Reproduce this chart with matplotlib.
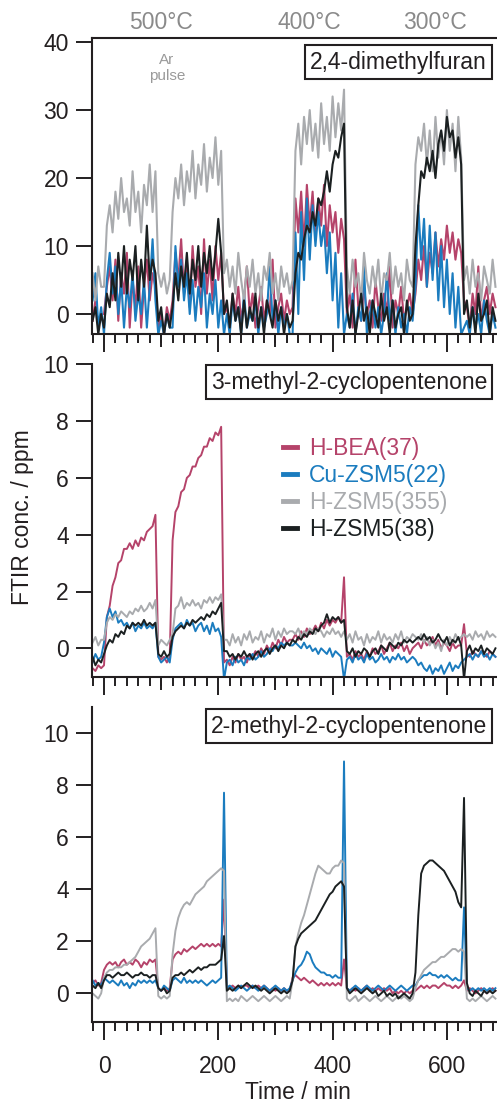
import numpy as np
import matplotlib
matplotlib.use("Agg")
import matplotlib.pyplot as plt
from matplotlib.ticker import MultipleLocator, FixedLocator
import matplotlib.transforms as mtransforms

plt.rcParams['font.family'] = ['Liberation Sans', 'DejaVu Sans']

time_min = np.arange(-20, 690, 5)

series_names = ["H-BEA(37)", "Cu-ZSM5(22)", "H-ZSM5(355)", "H-ZSM5(38)"]
panel_titles = ["2,4-dimethylfuran", "3-methyl-2-cyclopentenone", "2-methyl-2-cyclopentenone"]
temp_labels = ["500°C", "400°C", "300°C"]
temp_label_times = [100, 360, 580]

# 2,4-dimethylfuran
dmf_hbea = [-1, 2, -2, 0,
            0, 4, 7, 2, 8, -1, 6, 3, 9, -2, 5, 1, 7, -2, 4, 8, 2, 6, 4,
            -2, 0, -3, 1, -1,
            2, 9, 5, 11, 3, 8, 1, 10, 4, 7, 0, 11, 3, 8, 2, 10, 5, 9, 0,
            1, -2, 3, 0, 4, -1, 2, 7, 0, 3, -2, 1, 4, -1, 2, 0, 8, -2, 1, 3, -1, 2, 0,
            1, 17, 12, 18, 10, 19, 13, 18, 11, 17, 13, 19, 10, 16, 12, 15, 9, 14, 11,
            0, 3, -2, 8, 1, -1, 4, 0, 2, -2, 5, 1, -1, 3, 0, 7, -2, 2, 0, 4, -1, 1, 3, 0,
            3, 8, 5, 10, 4, 9, 6, 12, 7, 11, 8, 13, 9, 12, 8, 11, 9, 2,
            1, -2, 3, 0, 7, -1, 2, 4, 0, 3, 1]
dmf_cuzsm5 = [2, 6, -2, 1,
              -3, 5, 9, 3, 7, 0, 5, -2, 4, 1, 6, -1, 3, 0, 5, -2, 4, 11, 2,
              -3, -1, -3, 0, -2,
              -2, 10, 4, 8, 2, 6, 0, 5, -1, 4, 1, 6, -2, 3, 0, 5, -2, 2, -3,
              0, -3, 2, -1, 1, -3, 3, -2, 0, -1, 2, -3, 1, -2, 0, 7, -1, 2, -3, 1, -2, 0, -3,
              -3, 12, 0, 15, 5, 17, 8, 16, 10, 15, 10, 13, 6, 12, 2, 9, -2, 6, -3,
              0, -2, 3, -3, 1, -1, 7, -3, 0, 2, -2, 1, -3, 0, 6, -1, 2, -3, 1, -2, 0, -3, 1, -1,
              4, 16, 8, 14, 4, 13, 5, 12, 2, 10, 1, 8, 0, 6, -2, 4, -3, -2,
              -1, -3, 1, -2, 0, -3, 2, -1, -3, 0, -2]
dmf_hzsm5_355 = [6, 2, 7, 4,
                 4, 13, 16, 12, 18, 14, 20, 15, 17, 13, 21, 15, 18, 12, 19, 16, 22, 15, 21,
                 6, 4, 6, 3, 5,
                 15, 20, 17, 22, 16, 21, 18, 24, 17, 22, 19, 25, 18, 23, 20, 26, 19, 24, 6,
                 8, 4, 7, 3, 9, 5, 2, 7, 4, 8, 3, 6, 2, 7, 5, 9, 3, 6, 2, 7, 4, 6, 3,
                 5, 24, 28, 22, 29, 25, 30, 24, 28, 23, 31, 25, 29, 24, 32, 26, 31, 27, 33,
                 7, 3, 8, 4, 6, 2, 9, 5, 3, 7, 4, 8, 2, 6, 5, 9, 3, 7, 4, 6, 2, 8, 5, 4,
                 22, 26, 24, 28, 22, 27, 21, 29, 23, 27, 22, 30, 24, 28, 21, 29, 23, 5,
                 7, 3, 8, 4, 6, 2, 7, 5, 3, 8, 4]
dmf_hzsm5_38 = [-1, 1, -3, 0,
                -2, 3, 1, 6, 2, 9, 4, 10, 3, 8, 5, 10, 2, 8, 4, 13, 5, 8, 6,
                -1, 1, -3, 0, -2,
                1, 6, 2, 7, 4, 9, 3, 8, 5, 10, 4, 9, 6, 10, 5, 9, 14, 9, 0,
                2, -2, 3, -1, 1, -3, 2, -2, 1, -1, 3, -2, 1, -3, 2, 0, -2, 2, -1, 1, -3, 0, -2,
                -1, 6, 9, 8, 11, 13, 12, 15, 13, 17, 16, 18, 21, 18, 22, 24, 23, 26, 28,
                1, -2, 2, -3, 0, 3, -1, 1, -3, 2, 0, -2, 3, -1, 1, -3, 2, -2, 0, 1, -3, 2, -1, 0,
                10, 16, 21, 20, 23, 21, 24, 20, 25, 27, 24, 29, 26, 27, 23, 26, 22, 0,
                2, -2, 1, -3, 3, -1, 0, 2, -3, 1, -1]

# 3-methyl-2-cyclopentenone
mcp3_hbea = [-0.7, -0.8, -0.6, -0.7,
             -0.6, 1.1, 1.5, 2.2, 2.5, 3.0, 3.1, 3.5, 3.5, 3.7, 3.5, 3.8, 3.6, 3.9, 3.8, 4.1, 4.2, 4.3, 4.7,
             -0.3, -0.4, -0.3, -0.5, -0.3,
             3.8, 4.8, 5.0, 5.5, 5.6, 6.0, 6.1, 6.4, 6.4, 6.7, 6.8, 7.1, 7.1, 7.4, 7.3, 7.6, 7.5, 7.8, -0.5,
             -0.4, -0.6, -0.3, -0.5, -0.2, -0.4, -0.3, -0.5, -0.2, -0.3, -0.1, -0.3, 0.0, -0.2, 0.1, -0.1, 0.2, 0.0, 0.3, 0.1, 0.4, 0.2, 0.3,
             0.3, 0.5, 0.3, 0.6, 0.4, 0.7, 0.5, 0.6, 0.8, 0.6, 0.9, 0.7, 1.0, 0.8, 1.0, 0.9, 1.1, 0.9, 2.5,
             -0.3, -0.2, -0.4, -0.1, -0.3, -0.2, -0.4, -0.1, -0.3, 0.0, -0.2, -0.1, 0.1, -0.2, 0.0, 0.2, -0.1, 0.1, 0.0, 0.2, -0.1, 0.1, -0.2, 0.0,
             0.1, 0.2, 0.0, 0.3, 0.1, 0.2, 0.4, 0.1, 0.3, 0.0, 0.2, 0.1, -0.1, 0.2, 0.0, 0.1, 0.1, 0.85,
             -0.2, -0.3, -0.1, -0.2, -0.3, -0.1, -0.2, -0.3, -0.1, -0.2, -0.3]
mcp3_cuzsm5 = [-0.5, -0.2, -0.4, -0.3,
               0.2, 1.1, 1.4, 1.1, 1.3, 0.9, 1.0, 0.8, 0.9, 0.7, 0.9, 0.6, 0.8, 0.7, 0.9, 0.7, 0.8, 0.7, 0.9,
               -0.3, -0.5, -0.4, -0.3, -0.5,
               0.3, 0.7, 0.8, 0.9, 0.7, 1.0, 0.8, 0.9, 0.6, 0.8, 0.9, 0.6, 0.8, 0.5, 0.9, 0.6, 0.7, 0.4, -1.1,
               -0.5, -0.4, -0.6, -0.3, -0.5, -0.4, -0.6, -0.3, -0.4, -0.2, -0.4, -0.3, -0.1, -0.3, -0.2, 0.0, -0.1, 0.1, 0.0, 0.2, 0.1, 0.2, 0.1,
               0.1, 0.2, 0.1, 0.0, 0.2, 0.0, 0.1, -0.1, 0.0, -0.2, 0.0, -0.1, -0.2, 0.0, -0.3, -0.1, -0.2, -0.3, -1.1,
               -0.4, -0.3, -0.5, -0.2, -0.4, -0.3, -0.5, -0.2, -0.4, -0.3, -0.5, -0.4, -0.2, -0.4, -0.3, -0.5, -0.3, -0.4, -0.2, -0.4, -0.3, -0.5, -0.4, -0.3,
               -0.4, -0.6, -0.5, -0.7, -0.8, -0.6, -0.9, -0.7, -0.8, -0.6, -0.9, -0.7, -0.5, -0.8, -0.6, -0.7, -0.5, -0.4,
               -0.3, -0.2, -0.4, -0.2, -0.3, -0.1, -0.3, -0.2, -0.4, -0.2, -0.3]
mcp3_hzsm5_355 = [0.2, 0.4, 0.1, 0.3,
                  0.3, 0.9, 1.1, 1.0, 1.2, 1.1, 1.3, 1.2, 1.1, 1.3, 1.2, 1.4, 1.3, 1.5, 1.3, 1.4, 1.6, 1.4, 1.7,
                  0.1, 0.3, 0.2, 0.1, 0.3,
                  0.5, 1.4, 1.5, 1.8, 1.4, 1.6, 1.5, 1.7, 1.5, 1.6, 1.4, 1.7, 1.6, 1.8, 1.6, 1.8, 1.7, 1.9, 0.3,
                  0.3, 0.1, 0.5, 0.2, 0.4, 0.1, 0.5, 0.3, 0.6, 0.2, 0.4, 0.3, 0.6, 0.2, 0.5, 0.4, 0.7, 0.3, 0.6, 0.4, 0.7, 0.5, 0.6,
                  0.6, 0.5, 0.7, 0.4, 0.6, 0.5, 0.7, 0.6, 0.5, 0.7, 0.6, 0.4, 0.6, 0.5, 0.7, 0.5, 0.6, 0.4, 0.6,
                  0.3, 0.5, 0.2, 0.6, 0.3, 0.4, 0.1, 0.5, 0.2, 0.4, 0.3, 0.6, 0.2, 0.5, 0.3, 0.4, 0.2, 0.5, 0.3, 0.6, 0.2, 0.4, 0.3, 0.5,
                  0.4, 0.3, 0.5, 0.2, 0.4, 0.1, 0.3, 0.0, 0.2, -0.1, 0.3, 0.1, 0.4, 0.2, 0.5, 0.3, 0.4, 0.5,
                  0.4, 0.5, 0.3, 0.6, 0.4, 0.5, 0.3, 0.6, 0.4, 0.5, 0.4]
mcp3_hzsm5_38 = [-0.3, -0.6, -0.4, -0.5,
                 -0.2, 0.1, 0.3, 0.2, 0.5, 0.4, 0.6, 0.5, 0.8, 0.7, 0.9, 0.8, 0.9, 0.8, 1.0, 0.8, 0.9, 0.8, 0.9,
                 -0.2, -0.3, -0.1, -0.3, -0.2,
                 0.4, 0.6, 0.7, 0.8, 0.7, 0.9, 0.8, 1.0, 0.9, 1.0, 1.1, 1.0, 1.2, 1.1, 1.3, 1.2, 1.4, 1.6, -0.1,
                 -0.1, -0.3, -0.2, -0.4, -0.2, -0.3, -0.1, -0.3, -0.2, -0.4, -0.2, -0.1, -0.3, -0.1, 0.0, -0.2, 0.0, 0.1, -0.1, 0.1, 0.0, 0.2, 0.1,
                 0.3, 0.2, 0.4, 0.3, 0.5, 0.4, 0.6, 0.5, 0.7, 0.6, 0.8, 0.9, 1.2, 0.9, 1.1, 1.0, 1.1, 0.9, 1.0,
                 -0.1, -0.2, 0.0, -0.3, -0.1, -0.2, 0.0, -0.1, -0.3, -0.1, 0.0, -0.2, 0.1, 0.0, -0.1, 0.2, 0.1, 0.0, 0.2, 0.1, 0.3, 0.2, 0.3, 0.2,
                 0.3, 0.4, 0.3, 0.5, 0.3, 0.4, 0.2, 0.3, 0.5, 0.3, 0.2, 0.4, 0.1, 0.3, 0.2, 0.4, 0.1, -1.1,
                 -0.1, 0.1, -0.2, 0.0, -0.1, 0.1, -0.2, 0.0, -0.1, -0.2, 0.0]

# 2-methyl-2-cyclopentenone
mcp2_hbea = [0.4, 0.5, 0.3, 0.4,
             0.9, 1.1, 1.2, 1.1, 1.2, 1.0, 1.2, 1.3, 1.1, 1.2, 1.1, 1.3, 1.2, 1.0, 1.2, 1.1, 1.3, 1.2, 1.3,
             0.2, 0.1, 0.2, 0.1, 0.2,
             1.3, 1.5, 1.6, 1.5, 1.7, 1.6, 1.7, 1.8, 1.7, 1.8, 1.9, 1.8, 1.9, 1.8, 1.9, 1.8, 1.9, 1.8, 3.6,
             0.3, 0.2, 0.3, 0.2, 0.3, 0.2, 0.3, 0.3, 0.2, 0.3, 0.2, 0.3, 0.2, 0.3, 0.2, 0.1, 0.2, 0.1, 0.2, 0.1, 0.2, 0.1, 0.1,
             0.6, 0.7, 0.6, 0.5, 0.6, 0.5, 0.4, 0.5, 0.4, 0.3, 0.4, 0.3, 0.4, 0.3, 0.4, 0.3, 0.4, 0.3, 1.3,
             0.2, 0.1, 0.2, 0.1, 0.2, 0.1, 0.2, 0.3, 0.1, 0.2, 0.1, 0.2, 0.1, 0.2, 0.1, 0.2, 0.0, 0.1, 0.0, 0.1, 0.0, 0.1, 0.0, 0.1,
             0.1, 0.2, 0.3, 0.2, 0.3, 0.2, 0.3, 0.3, 0.2, 0.3, 0.4, 0.3, 0.3, 0.2, 0.3, 0.2, 0.3, 0.5,
             0.1, 0.2, 0.1, 0.0, 0.1, 0.2, 0.1, 0.0, 0.1, 0.2, 0.1]
mcp2_cuzsm5 = [0.5, 0.3, 0.4, 0.3,
               0.6, 0.5, 0.4, 0.5, 0.4, 0.3, 0.5, 0.3, 0.4, 0.2, 0.4, 0.3, 0.5, 0.4, 0.5, 0.4, 0.5, 0.4, 0.5,
               0.2, 0.1, 0.3, 0.2, 0.1,
               0.5, 0.6, 0.5, 0.4, 0.6, 0.4, 0.5, 0.4, 0.5, 0.4, 0.5, 0.4, 0.3, 0.4, 0.5, 0.4, 0.5, 0.6, 7.7,
               0.2, 0.3, 0.2, 0.1, 0.2, 0.3, 0.2, 0.1, 0.2, 0.3, 0.2, 0.1, 0.2, 0.3, 0.2, 0.1, 0.2, 0.3, 0.2, 0.1, 0.2, 0.1, 0.2,
               0.5, 0.8, 1.0, 1.1, 1.3, 1.6, 1.5, 1.2, 1.0, 0.9, 0.8, 0.8, 0.7, 0.7, 0.6, 0.7, 0.6, 0.6, 8.9,
               0.2, 0.1, 0.2, 0.3, 0.2, 0.1, 0.2, 0.3, 0.2, 0.1, 0.2, 0.3, 0.2, 0.1, 0.2, 0.3, 0.2, 0.1, 0.2, 0.3, 0.2, 0.1, 0.2, 0.3,
               0.3, 0.5, 0.6, 0.7, 0.7, 0.8, 0.7, 0.7, 0.6, 0.7, 0.6, 0.7, 0.6, 0.5, 0.6, 0.5, 0.5, 3.3,
               0.2, 0.1, 0.2, 0.1, 0.2, 0.1, 0.2, 0.1, 0.2, 0.1, 0.2]
mcp2_hzsm5_355 = [0.0, -0.1, -0.2, 0.0,
                  0.6, 0.8, 0.9, 0.9, 1.0, 1.0, 1.0, 1.1, 1.1, 1.2, 1.3, 1.4, 1.6, 1.8, 1.9, 2.0, 2.1, 2.3, 2.5,
                  -0.1, -0.2, -0.1, -0.2, -0.1,
                  1.5, 2.4, 2.9, 3.2, 3.4, 3.5, 3.4, 3.6, 3.8, 3.9, 4.0, 4.1, 4.3, 4.4, 4.5, 4.6, 4.7, 4.8, 4.7,
                  -0.3, -0.2, -0.3, -0.2, -0.3, -0.1, -0.2, -0.3, -0.2, -0.1, -0.2, -0.3, -0.2, -0.1, -0.2, -0.3, -0.2, -0.1, -0.2, -0.3, -0.2, -0.1, -0.2,
                  0.5, 1.8, 2.3, 2.7, 3.0, 3.4, 3.8, 4.2, 4.6, 4.9, 4.8, 4.7, 4.6, 4.6, 4.8, 4.9, 4.9, 5.1, 5.0,
                  -0.2, -0.3, -0.2, -0.1, -0.3, -0.2, -0.1, -0.2, -0.3, -0.2, -0.1, -0.2, -0.3, -0.2, -0.1, -0.2, -0.3, -0.2, -0.1, -0.2, -0.1, -0.2, -0.3, -0.2,
                  0.2, 0.5, 0.7, 0.9, 1.0, 1.1, 1.2, 1.2, 1.3, 1.4, 1.4, 1.5, 1.6, 1.7, 1.7, 1.6, 1.7, 1.6,
                  -0.2, -0.3, -0.2, -0.3, -0.2, -0.1, -0.2, -0.3, -0.2, -0.1, -0.2]
mcp2_hzsm5_38 = [0.3, 0.2, 0.4, 0.2,
                 0.5, 0.7, 0.7, 0.6, 0.7, 0.8, 0.7, 0.7, 0.8, 0.7, 0.6, 0.7, 0.7, 0.8, 0.7, 0.7, 0.6, 0.7, 0.7,
                 0.2, 0.1, 0.2, 0.0, 0.1,
                 0.6, 0.7, 0.7, 0.8, 0.7, 0.8, 0.9, 0.8, 0.9, 1.0, 0.9, 1.0, 1.0, 1.1, 1.1, 1.1, 1.2, 1.3, 2.2,
                 0.1, 0.2, 0.1, 0.2, 0.3, 0.2, 0.3, 0.4, 0.3, 0.2, 0.3, 0.2, 0.1, 0.2, 0.1, 0.0, 0.1, 0.2, 0.1, 0.0, 0.1, 0.0, 0.1,
                 0.5, 1.8, 2.1, 2.3, 2.4, 2.5, 2.6, 2.7, 2.8, 3.0, 3.2, 3.4, 3.6, 3.8, 3.9, 4.1, 4.2, 4.3, 4.1,
                 0.2, 0.0, 0.1, 0.2, 0.1, 0.0, 0.1, 0.2, 0.1, 0.0, 0.1, -0.1, 0.0, 0.1, -0.1, 0.0, -0.1, 0.0, -0.2, -0.1, 0.0, -0.1, -0.2, 0.0,
                 0.8, 3.0, 4.6, 4.9, 5.0, 5.1, 5.1, 5.0, 4.9, 4.8, 4.7, 4.5, 4.3, 4.1, 3.9, 3.5, 3.3, 7.5,
                 0.4, 0.0, -0.1, 0.1, 0.0, -0.1, 0.1, 0.0, 0.1, 0.0, 0.1]

panels = [
    [dmf_hbea, dmf_cuzsm5, dmf_hzsm5_355, dmf_hzsm5_38],
    [mcp3_hbea, mcp3_cuzsm5, mcp3_hzsm5_355, mcp3_hzsm5_38],
    [mcp2_hbea, mcp2_cuzsm5, mcp2_hzsm5_355, mcp2_hzsm5_38],
]
for p in panels:
    for s in p:
        assert len(s) == len(time_min), len(s)

# ---------------- styling ----------------
colors = ["#b5436a", "#1b7cbf", "#a9abae", "#1b2021"]
draw_order = [0, 1, 2, 3]
text_col = "#231f20"
FS = 16.5

W, H = 497, 1103
fig = plt.figure(figsize=(W / 100, H / 100), dpi=100)


def px_rect(left, top, right, bottom):
    return [left / W, 1 - bottom / H, (right - left) / W, (bottom - top) / H]


axes = [fig.add_axes(px_rect(92, 38, 497, 334)),
        fig.add_axes(px_rect(92, 364.3, 497, 676.7)),
        fig.add_axes(px_rect(92, 706.7, 497, 1022.3))]
ylims = [(-2.94, 40.6), (-1.0, 10.0), (-1.11, 11.0)]
ysteps = [10, 2, 2]
ymaxtick = [40, 10, 10]
lws = [1.5, 1.4, 1.4]

lines_mid = {}
for i, ax in enumerate(axes):
    for k in draw_order:
        ln, = ax.plot(time_min, panels[i][k], color=colors[k], lw=lws[i],
                      label=series_names[k])
        if i == 1:
            lines_mid[k] = ln
    ax.set_xlim(-21, 687.7)
    ax.set_ylim(*ylims[i])
    ax.yaxis.set_major_locator(FixedLocator(np.arange(0, ymaxtick[i] + 0.1, ysteps[i])))
    ax.xaxis.set_major_locator(FixedLocator([0, 200, 400, 600]))
    ax.xaxis.set_minor_locator(MultipleLocator(20))
    ax.tick_params(axis='y', which='major', direction='out', length=11.7, width=1.4,
                   labelsize=FS, pad=5, colors=text_col)
    ax.tick_params(axis='x', which='major', direction='out', length=12.7, width=1.4,
                   labelsize=FS, pad=11, colors=text_col)
    ax.tick_params(axis='x', which='minor', direction='out', length=6.7, width=1.4, colors=text_col)
    if i < 2:
        ax.tick_params(axis='x', which='both', labelbottom=False)
    sec = ax.secondary_xaxis('bottom')
    sec.set_xticks([100, 300, 500])
    sec.tick_params(axis='x', direction='out', length=9.1, width=1.4, labelbottom=False, colors=text_col)
    sec.spines['bottom'].set_visible(False)
    ax.spines['right'].set_visible(False)
    ax.spines['top'].set_visible(i == 0)
    for sp in ['left', 'bottom', 'top']:
        ax.spines[sp].set_linewidth(1.5)
        ax.spines[sp].set_color(text_col)

# x label
fig.text(298 / W, 1 - 1099 / H, "Time / min", ha='center', va='baseline',
         fontsize=FS, color=text_col)

# panel title boxes
title_tops = [45, 365, 709]
for i, t in enumerate(panel_titles):
    fig.text(487 / W, 1 - (title_tops[i] + 5.5) / H, t, ha='right', va='top', fontsize=FS,
             color=text_col, zorder=10,
             bbox=dict(boxstyle='square,pad=0.22', fc='white', ec=text_col, lw=1.5))

# temperature labels above top panel
blend = mtransforms.blended_transform_factory(axes[0].transData, fig.transFigure)
for lab, tx in zip(temp_labels, temp_label_times):
    axes[0].text(tx, 1 - 22.8 / H, lab, transform=blend, ha='center', va='center',
                 fontsize=FS, color="#8a8a8a", clip_on=False)
axes[0].text(110, 1 - 68 / H, "Ar\npulse", transform=blend, ha='center', va='center',
             fontsize=11, color="#9a9a9a", linespacing=1.1, clip_on=False)

# y label
fig.text(23 / W, 1 - 517 / H, "FTIR conc. / ppm", rotation=90, ha='center', va='center',
         fontsize=FS, color=text_col)

# legend in middle panel
leg = axes[1].legend([lines_mid[k] for k in range(4)], series_names,
                     loc='upper left', bbox_to_anchor=(283 / W, 1 - 437 / H),
                     bbox_transform=fig.transFigure, frameon=False, fontsize=FS,
                     handlelength=0.62, handletextpad=0.5, labelspacing=0.17,
                     borderpad=0, borderaxespad=0, labelcolor='linecolor')
for l in leg.get_lines():
    l.set_linewidth(3.5)

fig.savefig("out.png", dpi=100)
